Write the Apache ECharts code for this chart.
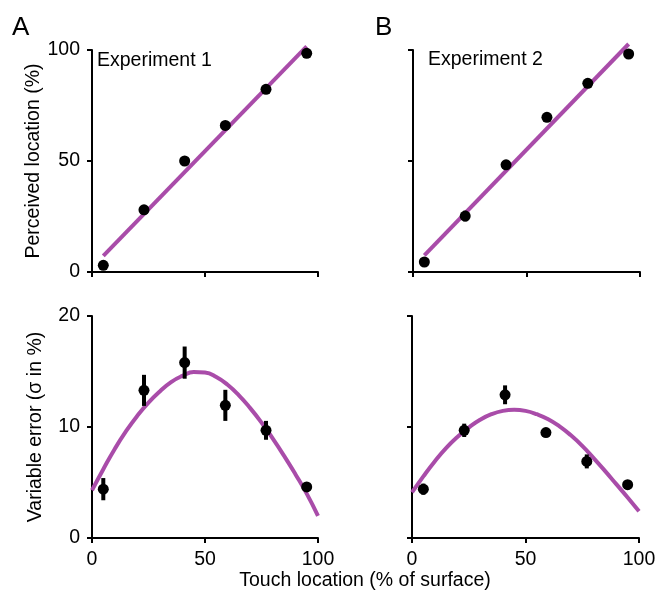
<!DOCTYPE html>
<html>
<head>
<meta charset="utf-8">
<script src="https://cdn.jsdelivr.net/npm/echarts@6/dist/echarts.min.js"></script>
<style>
  html, body { margin: 0; padding: 0; background: #fff; }
  #chart { width: 663px; height: 591px; }
</style>
</head>
<body>
<div id="chart"></div>
<script>
// touch location bins (% of surface)
const touchBins = [5, 23, 41, 59, 77, 95];

// perceived location (%)
const exp1Loc = [3, 28, 50, 66, 82.3, 98.5];
const exp1LocErr = [1, 1, 1.5, 1.2, 1, 1];
const exp2Loc = [4.5, 25.2, 48.3, 69.7, 85, 98.2];
const exp2LocErr = [1, 2.4, 1.2, 1, 1, 1];

// linear fits
const fit1X = [5, 95];
const fit1Y = [7.3, 101.6];
const fit2X = [5, 95];
const fit2Y = [7.5, 102.7];

// variable error (sigma in %)
const exp1Var = [4.4, 13.3, 15.8, 11.95, 9.7, 4.6];
const exp1VarErr = [1.0, 1.4, 1.45, 1.4, 0.85, 0.2];
const exp2Var = [4.4, 9.7, 12.9, 9.5, 6.9, 4.8];
const exp2VarErr = [0.5, 0.6, 0.85, 0.4, 0.63, 0.4];

// model curves
const curveX = [0, 5, 10, 15, 20, 25, 30, 35, 40, 45, 50, 55, 60, 65, 70, 75, 80, 85, 90, 95, 100];
const curve1Y = [4.3, 6.2, 8.0, 9.6, 11.0, 12.2, 13.2, 14.05, 14.6, 14.95, 14.9, 14.5, 13.8, 12.85, 11.7, 10.4, 8.95, 7.4, 5.75, 4.0, 2.0];
const curve2Y = [4.1, 5.55, 6.9, 8.1, 9.1, 9.95, 10.65, 11.15, 11.45, 11.55, 11.45, 11.15, 10.7, 10.05, 9.25, 8.3, 7.2, 6.05, 4.85, 3.65, 2.4];

const FONT = 'Liberation Sans';
const PURPLE = '#a94ca9';

const zip = (xs, ys) => xs.map((x, i) => [x, ys[i]]);
const errData = (xs, ys, es) => xs.map((x, i) => [x, ys[i] - es[i], ys[i] + es[i]]);

function xAxisOf(idx, showLabel) {
  return {
    type: 'value', gridIndex: idx, min: 0, max: 100, interval: 50, offset: 5,
    axisLine: { show: true, lineStyle: { color: '#000', width: 2 } },
    axisTick: { show: true, inside: false, length: 5, lineStyle: { color: '#000', width: 2 } },
    axisLabel: { show: showLabel, color: '#000', fontFamily: FONT, fontSize: 19.5, margin: 7 },
    splitLine: { show: false }
  };
}

function yAxisOf(idx, max, interval, showLabel, name) {
  return {
    type: 'value', gridIndex: idx, min: 0, max: max, interval: interval, offset: 5,
    name: name || '', nameLocation: 'middle', nameGap: 41,
    nameTextStyle: { color: '#000', fontFamily: FONT, fontSize: 19.5 },
    axisLine: { show: true, lineStyle: { color: '#000', width: 2 } },
    axisTick: { show: true, inside: false, length: 5, lineStyle: { color: '#000', width: 2 } },
    axisLabel: { show: showLabel, color: '#000', fontFamily: FONT, fontSize: 19.5, margin: 7 },
    splitLine: { show: false }
  };
}

function errorBars(idx, data) {
  return {
    type: 'custom', xAxisIndex: idx, yAxisIndex: idx, z: 3,
    data: data,
    renderItem: function (params, api) {
      const lo = api.coord([api.value(0), api.value(1)]);
      const hi = api.coord([api.value(0), api.value(2)]);
      return {
        type: 'line',
        shape: { x1: lo[0], y1: lo[1], x2: hi[0], y2: hi[1] },
        style: { stroke: '#000', lineWidth: 4 }
      };
    }
  };
}

function dots(idx, data) {
  return {
    type: 'scatter', xAxisIndex: idx, yAxisIndex: idx, z: 4,
    symbol: 'circle', symbolSize: 11,
    itemStyle: { color: '#000', opacity: 1 },
    data: data
  };
}

function fitLine(idx, data) {
  return {
    type: 'line', xAxisIndex: idx, yAxisIndex: idx, z: 2,
    smooth: 0.5, showSymbol: false, clip: false,
    lineStyle: { color: PURPLE, width: 4 },
    data: data
  };
}

const chart = echarts.init(document.getElementById('chart'));
chart.setOption({
  animation: false,
  backgroundColor: '#fff',
  grid: [
    { left: 92, top: 50, width: 226, height: 222 },
    { left: 413, top: 50, width: 227, height: 222 },
    { left: 92, top: 316, width: 226, height: 222 },
    { left: 412, top: 316, width: 227, height: 222 }
  ],
  xAxis: [xAxisOf(0, false), xAxisOf(1, false), xAxisOf(2, true), xAxisOf(3, true)],
  yAxis: [
    yAxisOf(0, 100, 50, true, 'Perceived location (%)'),
    yAxisOf(1, 100, 50, false),
    yAxisOf(2, 20, 10, true, 'Variable error (σ in %)'),
    yAxisOf(3, 20, 10, false)
  ],
  graphic: [
    { type: 'text', left: 12, top: 15, style: { text: 'A', font: '26px "' + FONT + '"', fill: '#000' } },
    { type: 'text', left: 375, top: 15, style: { text: 'B', font: '26px "' + FONT + '"', fill: '#000' } },
    { type: 'text', left: 97, top: 51, style: { text: 'Experiment 1', font: '19.5px "' + FONT + '"', fill: '#000' } },
    { type: 'text', left: 428, top: 50, style: { text: 'Experiment 2', font: '19.5px "' + FONT + '"', fill: '#000' } },
    { type: 'text', x: 365, y: 581, style: { text: 'Touch location (% of surface)', font: '19.5px "' + FONT + '"', fill: '#000', align: 'center', verticalAlign: 'middle' } }
  ],
  series: [
    fitLine(0, zip(fit1X, fit1Y)),
    errorBars(0, errData(touchBins, exp1Loc, exp1LocErr)),
    dots(0, zip(touchBins, exp1Loc)),
    fitLine(1, zip(fit2X, fit2Y)),
    errorBars(1, errData(touchBins, exp2Loc, exp2LocErr)),
    dots(1, zip(touchBins, exp2Loc)),
    fitLine(2, zip(curveX, curve1Y)),
    errorBars(2, errData(touchBins, exp1Var, exp1VarErr)),
    dots(2, zip(touchBins, exp1Var)),
    fitLine(3, zip(curveX, curve2Y)),
    errorBars(3, errData(touchBins, exp2Var, exp2VarErr)),
    dots(3, zip(touchBins, exp2Var))
  ]
});
</script>
</body>
</html>
